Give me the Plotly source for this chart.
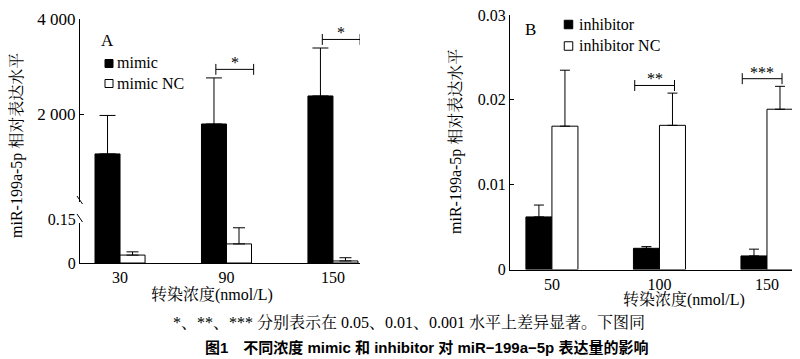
import plotly.graph_objects as go

# ---------------- data ----------------
conc_A = ["30", "90", "150"]
mimic = [1160, 1790, 2380]
mimic_err = [810, 970, 1010]
mimic_nc = [0.027, 0.065, 0.007]
mimic_nc_err = [0.011, 0.055, 0.011]
sig_A = ["", "*", "*"]

conc_B = ["50", "100", "150"]
inhib = [0.0062, 0.0025, 0.0016]
inhib_err = [0.0014, 0.0002, 0.0008]
inhib_nc = [0.0169, 0.0170, 0.0189]
inhib_nc_err = [0.0066, 0.0038, 0.0027]
sig_B = ["", "**", "***"]

ytick_A_upper = [2000, 4000]
ytick_A_upper_txt = ["2 000", "4 000"]
ytick_A_lower = [0, 0.15]
ytick_A_lower_txt = ["0", "0.15"]
ytick_B = [0, 0.01, 0.02, 0.03]
ytick_B_txt = ["0", "0.01", "0.02", "0.03"]

series_A = ["mimic", "mimic NC"]
series_B = ["inhibitor", "inhibitor NC"]

ytitle = "miR-199a-5p 相对表达水平"
xtitle = "转染浓度(nmol/L)"
note = "*、**、*** 分别表示在 0.05、0.01、0.001 水平上差异显著。下图同"
caption = "图1　不同浓度 mimic 和 inhibitor 对 miR−199a−5p 表达量的影响"

# ---------------- layout helpers ----------------
OFF = 8                      # page body margin
W, H = 800 - OFF, 359 - OFF
def px(x):
    return (x - OFF) / W
def py(y):
    return 1 - (y - OFF) / H

SERIF = "Liberation Serif, Noto Serif CJK SC, Noto Sans CJK SC, serif"
SANS = "Liberation Sans, Noto Sans CJK SC, sans-serif"
BW_A = 0.235
BW_B = 0.242
BLACK = dict(color="black", line=dict(color="black", width=1))
WHITE = dict(color="white", line=dict(color="black", width=1))

def err(arr, w):
    return dict(type="data", array=arr, arrayminus=[0] * len(arr), symmetric=False,
                color="black", thickness=1, width=w)

fig = go.Figure()

# Panel A, lower (broken) part
fig.add_bar(x=conc_A, y=mimic, xaxis="x", yaxis="y", width=BW_A, offset=-BW_A,
            marker=BLACK, name=series_A[0], showlegend=False)
fig.add_bar(x=conc_A, y=mimic_nc, xaxis="x", yaxis="y", width=BW_A, offset=0,
            marker=WHITE, name=series_A[1], showlegend=False,
            error_y=err(mimic_nc_err, 6))
# Panel A, upper part
fig.add_bar(x=conc_A, y=mimic, xaxis="x", yaxis="y2", width=BW_A, offset=-BW_A,
            marker=BLACK, name=series_A[0], showlegend=False,
            error_y=err(mimic_err, 8))

# Panel B
fig.add_bar(x=conc_B, y=inhib, xaxis="x2", yaxis="y3", width=BW_B, offset=-BW_B,
            marker=BLACK, name=series_B[0], showlegend=False,
            error_y=err(inhib_err, 5))
fig.add_bar(x=conc_B, y=inhib_nc, xaxis="x2", yaxis="y3", width=BW_B, offset=0,
            marker=WHITE, name=series_B[1], showlegend=False,
            error_y=err(inhib_nc_err, 5))

def axis_common(size):
    return dict(showgrid=False, zeroline=False, showline=True, linecolor="black",
                linewidth=1, automargin=False, ticklabeloverflow="allow",
                tickfont=dict(family=SERIF, size=size, color="black"))

fig.update_layout(
    template="none",
    width=W, height=H, autosize=False,
    margin=dict(l=0, r=0, t=0, b=0, pad=0, autoexpand=False),
    paper_bgcolor="white", plot_bgcolor="white",
    barmode="overlay", showlegend=False,
    xaxis=dict(domain=[px(80), px(360)], anchor="y", type="category",
               range=[-0.376, 2.254], ticks="", ticklen=0, **axis_common(16)),
    yaxis=dict(domain=[py(263), py(209)], anchor="x", range=[0, 0.184],
               tickvals=ytick_A_lower, ticktext=ytick_A_lower_txt,
               ticks="inside", ticklen=4, tickcolor="black", **axis_common(16)),
    yaxis2=dict(domain=[py(209), py(19)], anchor="x", range=[0, 4000.5],
                tickvals=ytick_A_upper, ticktext=ytick_A_upper_txt,
                ticks="inside", ticklen=4, tickcolor="black", **axis_common(17)),
    xaxis2=dict(domain=[px(510), px(793)], anchor="y3", type="category",
                range=[-0.39, 2.242], ticks="", ticklen=0, **axis_common(16)),
    yaxis3=dict(domain=[py(269.5), py(15)], anchor="x2", range=[0, 0.03001],
                tickvals=ytick_B, ticktext=ytick_B_txt,
                ticks="inside", ticklen=4, tickcolor="black", **axis_common(16)),
)

shapes = []
annots = []

# significance brackets
def bracket(xref, yref, x0, x1, y, dy, label):
    shapes.append(dict(type="line", xref=xref, yref=yref, x0=x0, x1=x1, y0=y, y1=y,
                       line=dict(color="black", width=1)))
    for xx in (x0, x1):
        shapes.append(dict(type="line", xref=xref, yref=yref, x0=xx, x1=xx,
                           y0=y - dy, y1=y + dy, line=dict(color="black", width=1)))
    annots.append(dict(xref=xref, yref=yref, x=(x0 + x1) / 2, y=y, text=label,
                       showarrow=False, yanchor="bottom", yshift=-4,
                       font=dict(family=SERIF, size=16, color="black")))

for i, s in enumerate(sig_A):
    if s:
        top = mimic[i] + mimic_err[i]
        bracket("x", "y2", i - 0.10, i + 0.255, top + 180, 115, s)
for i, s in enumerate(sig_B):
    if s:
        top = inhib_nc[i] + inhib_nc_err[i]
        bracket("x2", "y3", i - 0.23, i + 0.14, top + 0.0009, 0.00065, s)

# axis break marks on panel A
shapes.append(dict(type="rect", xref="paper", yref="paper", x0=px(76), x1=px(85),
                   y0=py(223), y1=py(202), fillcolor="white", line=dict(width=0)))
for (y0, y1) in ((196, 204), (214, 222)):
    shapes.append(dict(type="line", xref="paper", yref="paper", x0=px(77), x1=px(82.5),
                       y0=py(y0), y1=py(y1), line=dict(color="black", width=1)))

# texts
def txt(x, y, t, size=16, family=SERIF, angle=0, bold=False, xanchor="center"):
    annots.append(dict(xref="paper", yref="paper", x=px(x), y=py(y),
                       text=("<b>%s</b>" % t) if bold else t, showarrow=False,
                       textangle=angle, xanchor=xanchor, yanchor="middle",
                       font=dict(family=family, size=size, color="black")))

# hand-made legends (keys)
def legend(names, x_key, ys, x_text, size):
    for name, y, mk in zip(names, ys, (BLACK, WHITE)):
        shapes.append(dict(type="rect", xref="paper", yref="paper",
                           x0=px(x_key - size / 2), x1=px(x_key + size / 2),
                           y0=py(y + size / 2), y1=py(y - size / 2),
                           fillcolor=mk["color"], line=dict(color="black", width=1)))
        txt(x_text, y - 0.5, name, xanchor="left")

legend(series_A, 109, (63.5, 83.5), 115, 8)
legend(series_B, 568.5, (24.5, 46), 577, 8.5)

txt(17, 146, ytitle, angle=-90)
txt(455, 142, ytitle, angle=-90)
txt(212, 295, xtitle)
txt(684, 300, xtitle)
txt(107, 40, "A", size=17)
txt(530, 30, "B", size=17)
txt(409, 322, note, size=16)
txt(426, 347, caption, size=15, family=SANS, bold=True)

fig.update_layout(shapes=shapes, annotations=annots)
fig.write_html("out.html")
